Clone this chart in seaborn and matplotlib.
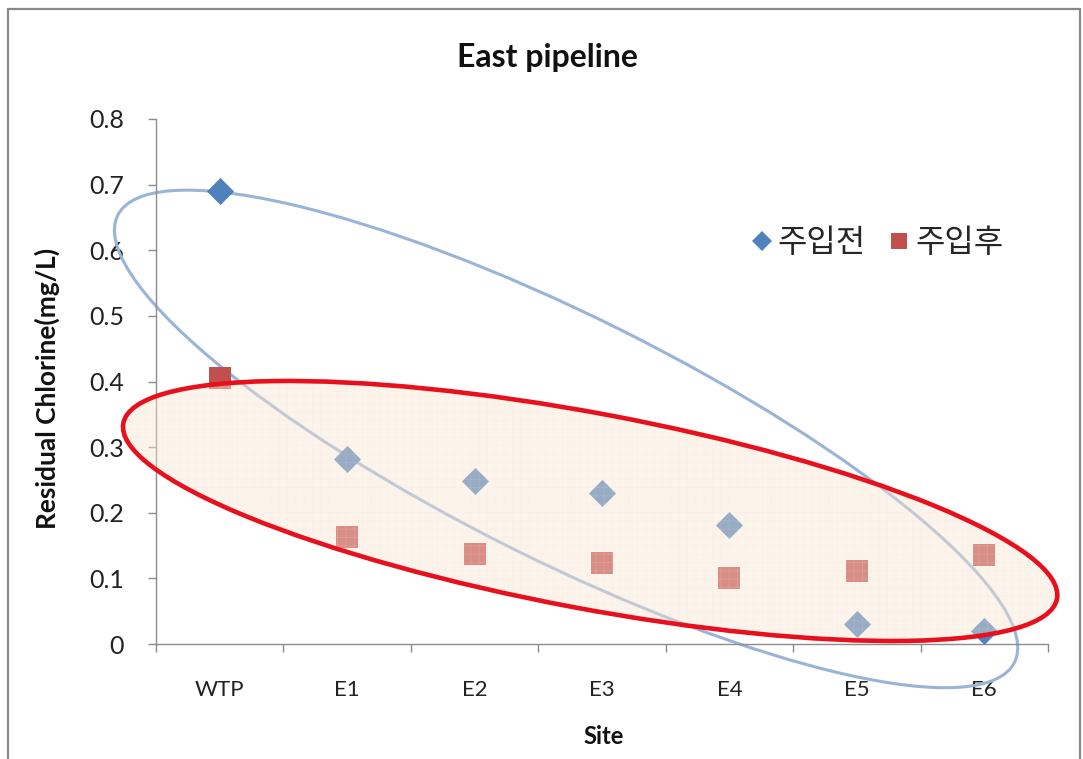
import numpy as np
import pandas as pd
import matplotlib
matplotlib.use("Agg")
import matplotlib.pyplot as plt
import matplotlib.transforms as mtransforms
from matplotlib.patches import Ellipse
from matplotlib.lines import Line2D
import seaborn as sns

# ---- data -------------------------------------------------------------
sites = ["WTP", "E1", "E2", "E3", "E4", "E5", "E6"]
before_injection = [0.69, 0.282, 0.248, 0.23, 0.181, 0.03, 0.02]   # 주입전
after_injection = [0.405, 0.163, 0.137, 0.123, 0.10, 0.111, 0.136]  # 주입후
series_names = ["주입전", "주입후"]
y_ticks = [0, 0.1, 0.2, 0.3, 0.4, 0.5, 0.6, 0.7, 0.8]
y_tick_labels = ["0", "0.1", "0.2", "0.3", "0.4", "0.5", "0.6", "0.7", "0.8"]

df = pd.DataFrame({
    "pos": list(range(len(sites))) * 2,
    "value": before_injection + after_injection,
    "series": [series_names[0]] * len(sites) + [series_names[1]] * len(sites),
})

BLUE = "#4F81BD"
RED = "#C0504D"
LATIN = "Lato"

sns.set_theme(style="white")
plt.rcParams["font.family"] = [LATIN, "Noto Sans CJK KR", "DejaVu Sans"]
plt.rcParams["hatch.linewidth"] = 0.6

W, H, DPI = 1083, 759, 100
fig = plt.figure(figsize=(W / DPI, H / DPI), dpi=DPI)
ax = fig.add_axes([156 / W, 115 / H, 892 / W, 525 / H])

# markers
sns.scatterplot(data=df[df.series == series_names[0]], x="pos", y="value",
                marker="D", s=190, color=BLUE, linewidth=0, ax=ax, zorder=3,
                legend=False)
sns.scatterplot(data=df[df.series == series_names[1]], x="pos", y="value",
                marker="s", s=230, color=RED, linewidth=0, ax=ax, zorder=3,
                legend=False)

ax.set_xlim(-0.5, len(sites) - 0.5)
ax.set_ylim(0, 0.8)

# ellipses are sized in screen pixels around a data-space centre
pos = ax.get_position()
px_w = pos.width * W
px_h = pos.height * H
sx = (len(sites)) / px_w
sy = 0.8 / px_h


def pixel_ellipse(cx, cy, a, b, angle, **kw):
    tr = mtransforms.Affine2D().scale(sx, sy).translate(cx, cy) + ax.transData
    return Ellipse((0, 0), 2 * a, 2 * b, angle=angle, transform=tr, **kw)


# blue outline ellipse around the pre-injection values
ax.add_patch(pixel_ellipse(2.718, 0.3125, 501, 122, -26.5, fill=False,
                           edgecolor="#98B4D6", linewidth=2.2, zorder=2,
                           clip_on=False))
# red highlighted ellipse around the post-injection values
ax.add_patch(pixel_ellipse(2.907, 0.2027, 475, 97.6, -10.65,
                           facecolor=(0.98, 0.90, 0.82), alpha=0.42,
                           edgecolor="none", zorder=4, clip_on=False))
ax.add_patch(pixel_ellipse(2.907, 0.2027, 475, 97.6, -10.65, fill=False,
                           hatch="++", edgecolor=(0.93, 0.88, 0.84, 0.2),
                           linewidth=0, zorder=4, clip_on=False))
ax.add_patch(pixel_ellipse(2.907, 0.2027, 475, 97.6, -10.65, fill=False,
                           edgecolor="#E8101C", linewidth=3.3, zorder=5,
                           clip_on=False))

# axes styling
for side in ["top", "right"]:
    ax.spines[side].set_visible(False)
for side in ["left", "bottom"]:
    ax.spines[side].set_color("#8C8C8C")
    ax.spines[side].set_linewidth(1.0)

ax.set_yticks(y_ticks)
ax.set_yticklabels(y_tick_labels)
ax.set_xticks(range(len(sites)))
ax.set_xticklabels(sites)
ax.set_xticks(np.arange(-0.5, len(sites)), minor=True)
ax.tick_params(axis="y", which="major", left=True, length=6, width=1.0,
               color="#8C8C8C", pad=17, labelsize=18, labelcolor="#222222")
ax.tick_params(axis="x", which="major", bottom=True, length=0, pad=26,
               labelsize=16, labelcolor="#222222")
ax.tick_params(axis="x", which="minor", bottom=True, length=6, width=1.0,
               color="#8C8C8C")
ax.set_xlabel("")
ax.set_ylabel("")
ax.grid(False)

# titles
fig.text(547 / W, 1 - 57 / H, "East pipeline", ha="center", va="center",
         fontsize=23, fontweight="bold", color="#111111")
fig.text(604 / W, 1 - 737 / H, "Site", ha="center", va="center",
         fontsize=17, fontweight="bold", color="#111111")
fig.text(47 / W, 1 - 388 / H, "Residual Chlorine(mg/L)", ha="center",
         va="center", rotation=90, fontsize=19, fontweight="bold",
         color="#111111")

# legend
handles = [
    Line2D([], [], linestyle="none", marker="D", markersize=10,
           markerfacecolor=BLUE, markeredgewidth=0),
    Line2D([], [], linestyle="none", marker="s", markersize=11,
           markerfacecolor=RED, markeredgewidth=0),
]
leg = ax.legend(handles, series_names, loc="center left",
                bbox_to_anchor=((752 - 156) / 892, (644 - 243) / 525),
                ncol=2, frameon=False, handlelength=0.6, handletextpad=0.2,
                columnspacing=0.75, borderpad=0, borderaxespad=0,
                prop={"family": ["Noto Sans CJK KR"], "size": 23})

# chart border
for (x0, y0, x1, y1) in [(8, 9, 8, 759), (8, 9, 1080, 9), (1080, 9, 1080, 759)]:
    fig.add_artist(Line2D([x0 / W, x1 / W], [1 - y0 / H, 1 - y1 / H],
                          transform=fig.transFigure, color="#8A8A8A",
                          linewidth=1.6))

fig.savefig("out.png", dpi=DPI, facecolor="white")
